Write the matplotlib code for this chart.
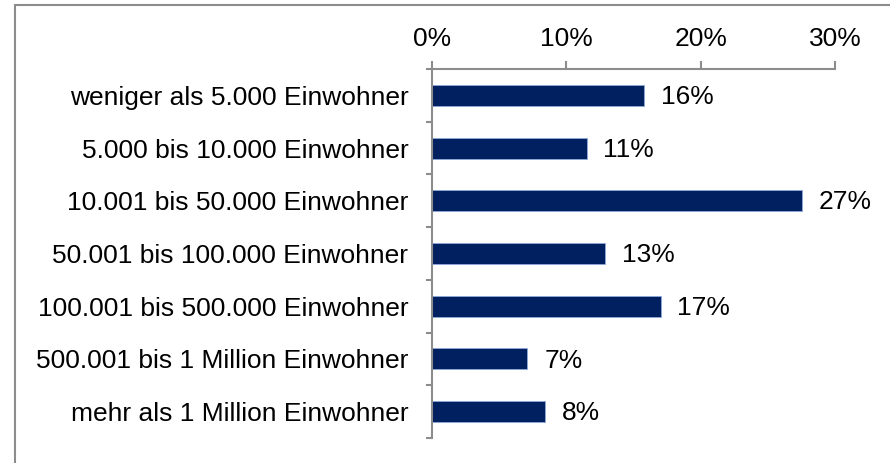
import matplotlib.pyplot as plt
import matplotlib.patches as patches
import numpy as np

plt.rcParams['font.family'] = ['Liberation Sans', 'DejaVu Sans']

categories = [
    'weniger als 5.000 Einwohner',
    '5.000 bis 10.000 Einwohner',
    '10.001 bis 50.000 Einwohner',
    '50.001 bis 100.000 Einwohner',
    '100.001 bis 500.000 Einwohner',
    '500.001 bis 1 Million Einwohner',
    'mehr als 1 Million Einwohner',
]
values = [15.8, 11.5, 27.5, 12.9, 17.0, 7.1, 8.4]
value_labels = ['16%', '11%', '27%', '13%', '17%', '7%', '8%']
x_ticks = [0, 10, 20, 30]
x_ticklabels = ['0%', '10%', '20%', '30%']

fs = 19
axis_grey = '#8c8c8c'

fig = plt.figure(figsize=(8.9, 4.63), dpi=100)
ax = fig.add_axes([0.4854, 0.054, 0.4531, 0.797])

# outer chart frame (only left and top edges visible in the reference)
frame = patches.Rectangle((15 / 890, -0.1), 1.0, 1 - 5 / 463 + 0.1,
                          transform=fig.transFigure, fill=False,
                          edgecolor='#8c8c8c', linewidth=1.5)
fig.add_artist(frame)

y = np.arange(len(categories))
ax.barh(y, values, height=0.4, color='#002060', edgecolor='#8ea9db', linewidth=0.6)

for yi, v, lab in zip(y, values, value_labels):
    ax.text(v + 1.25, yi + 0.03, lab, va='center', ha='left', fontsize=fs, color='black')

ax.set_xlim(0, 30)
ax.set_ylim(len(categories) - 0.5, -0.5)

ax.xaxis.tick_top()
ax.set_xticks(x_ticks)
ax.set_xticklabels(x_ticklabels, fontsize=fs)
ax.tick_params(axis='x', direction='out', length=6, width=1.5, color=axis_grey, pad=7)

ax.set_yticks(y)
ax.set_yticklabels(categories, fontsize=fs)
ax.tick_params(axis='y', which='major', length=0, pad=17)
ax.set_yticks(np.arange(len(categories) + 1) - 0.5, minor=True)
ax.tick_params(axis='y', which='minor', direction='out', length=4.5, width=1.5, color=axis_grey)

for side in ['right', 'bottom']:
    ax.spines[side].set_visible(False)
for side in ['top', 'left']:
    ax.spines[side].set_color(axis_grey)
    ax.spines[side].set_linewidth(1.5)

fig.savefig('out.png', dpi=100)
